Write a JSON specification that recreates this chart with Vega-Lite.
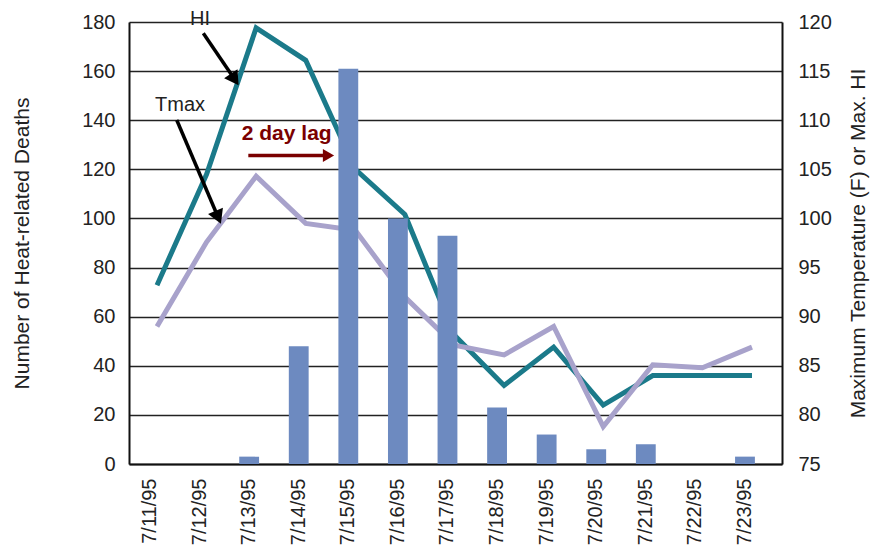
{
  "$schema": "https://vega.github.io/schema/vega-lite/v6.json",
  "width": 653,
  "height": 442,
  "autosize": "none",
  "padding": {"left": 129, "top": 22, "right": 94, "bottom": 89},
  "background": "white",
  "config": {
    "view": {"stroke": null},
    "font": "Liberation Sans",
    "axis": {
      "labelFont": "Liberation Sans",
      "titleFont": "Liberation Sans",
      "labelColor": "#222222",
      "titleColor": "#222222",
      "labelFontSize": 20,
      "titleFontSize": 21,
      "titleFontWeight": "normal",
      "ticks": false,
      "domainColor": "#111111",
      "domainWidth": 2,
      "gridColor": "#222222",
      "gridWidth": 1.6,
      "gridOpacity": 1
    }
  },
  "datasets": {
    "main": [
      {"date": "7/11/95", "deaths": 0, "HI": 93.2, "Tmax": 89.0},
      {"date": "7/12/95", "deaths": 0, "HI": 104.5, "Tmax": 97.6},
      {"date": "7/13/95", "deaths": 3, "HI": 119.4, "Tmax": 104.3},
      {"date": "7/14/95", "deaths": 48, "HI": 116.1, "Tmax": 99.5},
      {"date": "7/15/95", "deaths": 161, "HI": 105.0, "Tmax": 98.8},
      {"date": "7/16/95", "deaths": 100, "HI": 100.4, "Tmax": 92.0},
      {"date": "7/17/95", "deaths": 93, "HI": 88.1, "Tmax": 87.1},
      {"date": "7/18/95", "deaths": 23, "HI": 83.0, "Tmax": 86.1},
      {"date": "7/19/95", "deaths": 12, "HI": 86.9, "Tmax": 89.0},
      {"date": "7/20/95", "deaths": 6, "HI": 81.0, "Tmax": 78.8},
      {"date": "7/21/95", "deaths": 8, "HI": 84.0, "Tmax": 85.1},
      {"date": "7/22/95", "deaths": 0, "HI": 84.0, "Tmax": 84.8},
      {"date": "7/23/95", "deaths": 3, "HI": 84.0, "Tmax": 86.9}
    ]
  },
  "layer": [
    {
      "data": {"name": "main"},
      "mark": {"type": "line", "color": "#1b7a8a", "strokeWidth": 5, "xOffset": 7, "strokeJoin": "miter"},
      "encoding": {
        "x": {"field": "date", "type": "nominal", "sort": null,
              "scale": {"type": "band", "paddingInner": 0.6, "paddingOuter": 0.385, "align": 0.29},
              "axis": null},
        "y": {"field": "HI", "type": "quantitative",
              "scale": {"domain": [75, 120], "nice": false, "zero": false},
              "axis": {"orient": "right", "values": [75, 80, 85, 90, 95, 100, 105, 110, 115, 120],
                       "grid": false, "labelPadding": 16, "title": "Maximum Temperature (F) or Max. HI",
                       "titleAngle": 270, "titlePadding": 37}}
      }
    },
    {
      "data": {"name": "main"},
      "mark": {"type": "line", "color": "#a8a2cb", "strokeWidth": 5, "xOffset": 7, "strokeJoin": "miter"},
      "encoding": {
        "x": {"field": "date", "type": "nominal", "sort": null,
              "scale": {"type": "band", "paddingInner": 0.6, "paddingOuter": 0.385, "align": 0.29},
              "axis": null},
        "y": {"field": "Tmax", "type": "quantitative",
              "scale": {"domain": [75, 120], "nice": false, "zero": false},
              "axis": null}
      }
    },
    {
      "data": {"name": "main"},
      "mark": {"type": "bar", "color": "#6d8ac0"},
      "encoding": {
        "x": {"field": "date", "type": "nominal", "sort": null,
              "scale": {"type": "band", "paddingInner": 0.6, "paddingOuter": 0.385, "align": 0.29},
              "axis": {"orient": "bottom", "labelAngle": 270, "labelPadding": 14, "title": null}},
        "y": {"field": "deaths", "type": "quantitative",
              "scale": {"domain": [0, 180], "nice": false},
              "axis": {"orient": "left", "values": [0, 20, 40, 60, 80, 100, 120, 140, 160, 180],
                       "grid": true, "labelPadding": 14, "title": "Number of Heat-related Deaths",
                       "titlePadding": 49}}
      }
    },
    {
      "data": {"values": [
        {"i": 1.075, "d": 175.4, "i2": 1.682, "d2": 157.4},
        {"i": 0.539, "d": 140.1, "i2": 1.357, "d2": 101.3}
      ]},
      "mark": {"type": "rule", "color": "black", "strokeWidth": 3.5},
      "encoding": {
        "x": {"field": "i", "type": "quantitative", "scale": {"domain": [-0.4236, 12.747], "nice": false, "zero": false}, "axis": null},
        "x2": {"field": "i2"},
        "y": {"field": "d", "type": "quantitative", "scale": {"domain": [0, 180], "nice": false}, "axis": null},
        "y2": {"field": "d2"}
      }
    },
    {
      "data": {"values": [{"i": 1.682, "d": 157.4}]},
      "mark": {"type": "point", "shape": "triangle", "filled": true, "color": "black", "size": 260, "angle": 146, "opacity": 1},
      "encoding": {
        "x": {"field": "i", "type": "quantitative", "scale": {"domain": [-0.4236, 12.747], "nice": false, "zero": false}, "axis": null},
        "y": {"field": "d", "type": "quantitative", "scale": {"domain": [0, 180], "nice": false}, "axis": null}
      }
    },
    {
      "data": {"values": [{"i": 1.357, "d": 101.3}]},
      "mark": {"type": "point", "shape": "triangle", "filled": true, "color": "black", "size": 260, "angle": 157, "opacity": 1},
      "encoding": {
        "x": {"field": "i", "type": "quantitative", "scale": {"domain": [-0.4236, 12.747], "nice": false, "zero": false}, "axis": null},
        "y": {"field": "d", "type": "quantitative", "scale": {"domain": [0, 180], "nice": false}, "axis": null}
      }
    },
    {
      "data": {"values": [{"i": 1.983, "d": 125.6, "i2": 3.55, "d2": 125.6}]},
      "mark": {"type": "rule", "color": "#7a0000", "strokeWidth": 3.5},
      "encoding": {
        "x": {"field": "i", "type": "quantitative", "scale": {"domain": [-0.4236, 12.747], "nice": false, "zero": false}, "axis": null},
        "x2": {"field": "i2"},
        "y": {"field": "d", "type": "quantitative", "scale": {"domain": [0, 180], "nice": false}, "axis": null},
        "y2": {"field": "d2"}
      }
    },
    {
      "data": {"values": [{"i": 3.6, "d": 125.6}]},
      "mark": {"type": "point", "shape": "triangle-right", "filled": true, "color": "#7a0000", "size": 170, "opacity": 1},
      "encoding": {
        "x": {"field": "i", "type": "quantitative", "scale": {"domain": [-0.4236, 12.747], "nice": false, "zero": false}, "axis": null},
        "y": {"field": "d", "type": "quantitative", "scale": {"domain": [0, 180], "nice": false}, "axis": null}
      }
    },
    {
      "data": {"values": [
        {"label": "HI", "i": 1.008, "d": 181.2},
        {"label": "Tmax", "i": 0.605, "d": 146.2}
      ]},
      "mark": {"type": "text", "font": "Liberation Sans", "fontSize": 20, "color": "#222222", "align": "center", "baseline": "middle"},
      "encoding": {
        "x": {"field": "i", "type": "quantitative", "scale": {"domain": [-0.4236, 12.747], "nice": false, "zero": false}, "axis": null},
        "y": {"field": "d", "type": "quantitative", "scale": {"domain": [0, 180], "nice": false}, "axis": null},
        "text": {"field": "label"}
      }
    },
    {
      "data": {"values": [{"label": "2 day lag", "i": 2.757, "d": 134.4}]},
      "mark": {"type": "text", "font": "Liberation Sans", "fontSize": 21, "fontWeight": "bold", "color": "#7a0000", "align": "center", "baseline": "middle"},
      "encoding": {
        "x": {"field": "i", "type": "quantitative", "scale": {"domain": [-0.4236, 12.747], "nice": false, "zero": false}, "axis": null},
        "y": {"field": "d", "type": "quantitative", "scale": {"domain": [0, 180], "nice": false}, "axis": null},
        "text": {"field": "label"}
      }
    }
  ],
  "resolve": {"scale": {"x": "independent", "y": "independent"}}
}
